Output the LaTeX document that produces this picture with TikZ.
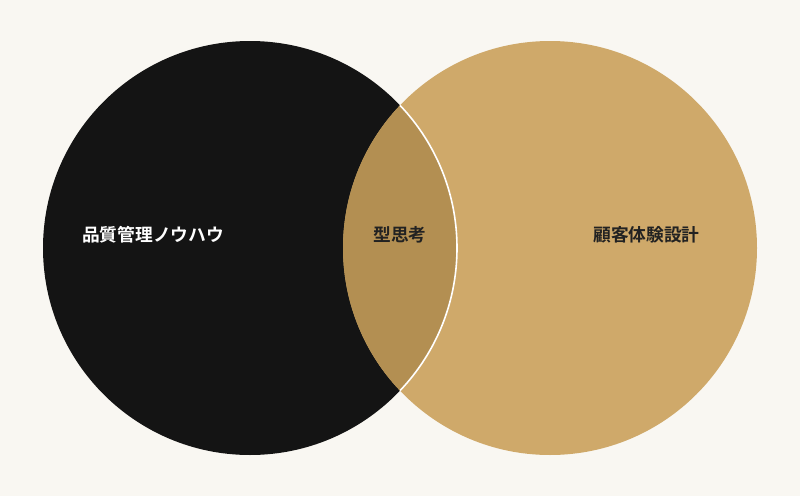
\documentclass[tikz,border=0pt]{standalone}
\usepackage{fontspec}
\newfontfamily\cjkbold{Noto Sans CJK JP Bold}
\definecolor{paper}{HTML}{F9F7F2}
\definecolor{ink}{HTML}{141414}
\definecolor{gold}{HTML}{CFA96A}
\definecolor{lens}{HTML}{B38F52}
\definecolor{label}{HTML}{222222}
\tikzset{
  venntext/.style={inner sep=0.75pt, font=\cjkbold\fontsize{13.3pt}{16pt}\selectfont},
}
\begin{document}
\begin{tikzpicture}[x=0.75pt,y=0.75pt,yscale=-1,xscale=1]
%Background
\fill[paper] (0,0) rectangle (800,496);

\coordinate (quality) at (250,248);
\coordinate (experience) at (550,248);

%Shape: Circle left
\fill[ink] (quality) circle [radius=155.25pt];
%Shape: Circle right
\fill[gold] (experience) circle [radius=155.25pt];
%Shape: Lens
\begin{scope}
\clip (quality) circle [radius=155.25pt];
\fill[lens] (experience) circle [radius=155.25pt];
\end{scope}
%Shape: White arc
\begin{scope}
\clip (experience) circle [radius=155.25pt];
\draw[white, line width=1.2pt] (quality) circle [radius=155.25pt];
\end{scope}

% Text Node
\node[venntext, text=white] (qualitytext) at (153,235) {品質管理ノウハウ};
% Text Node
\node[venntext, text=label] (patterntext) at (400,235) {型思考};
% Text Node
\node[venntext, text=label] (experiencetext) at (646.5,235) {顧客体験設計};

\end{tikzpicture}
\end{document}
